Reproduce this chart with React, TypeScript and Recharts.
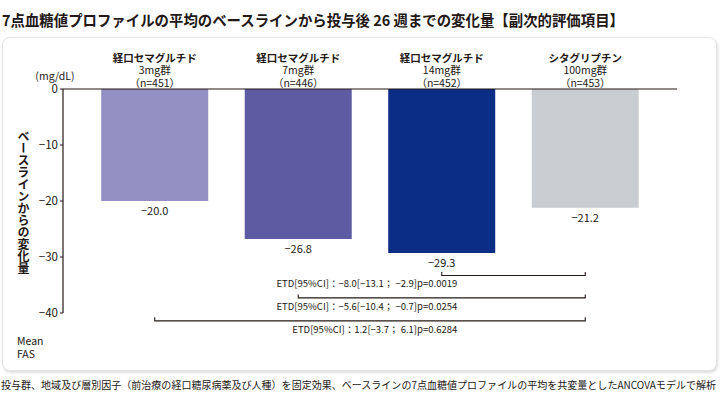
import React from 'react';
import { BarChart, Bar, XAxis, YAxis, Cell, LabelList, ReferenceLine } from 'recharts';

const categories = ['sema3', 'sema7', 'sema14', 'sita100'];
const drugNames = ['経口セマグルチド', '経口セマグルチド', '経口セマグルチド', 'シタグリプチン'];
const doseLabels = ['3mg群', '7mg群', '14mg群', '100mg群'];
const nLabels = ['（n=451）', '（n=446）', '（n=452）', '（n=453）'];
const changes = [-20.0, -26.8, -29.3, -21.2];
const barColors = ['#938fc2', '#5e5ba2', '#0c2d86', '#c9ccd0'];
const yTicks = [0, -10, -20, -30, -40];

const etdFrom = ['sema14', 'sema7', 'sema3'];
const etdTo = ['sita100', 'sita100', 'sita100'];
const etdLevel = [-33.3, -37.3, -41.4];
const etdTexts = [
  'ETD[95%CI]：−8.0[−13.1； −2.9]p=0.0019',
  'ETD[95%CI]：−5.6[−10.4； −0.7]p=0.0254',
  'ETD[95%CI]：1.2[−3.7； 6.1]p=0.6284',
];

const titleText = '7点血糖値プロファイルの平均のベースラインから投与後 26 週までの変化量【副次的評価項目】';
const footerText = '投与群、地域及び層別因子（前治療の経口糖尿病薬及び人種）を固定効果、ベースラインの7点血糖値プロファイルの平均を共変量としたANCOVAモデルで解析';
const yAxisTitle = 'ベースラインからの変化量';
const unitText = '(mg/dL)';

const data = categories.map((c, i) => ({ key: c, change: changes[i] }));

const INK = '#231815';
const FONT = "'Noto Sans CJK JP', 'Noto Sans', sans-serif";

const fmt = (v: number, digits = 0) => {
  const s = Math.abs(v).toFixed(digits);
  return v < 0 ? '−' + s : s;
};

const CategoryTick = (props: any) => {
  const { x, payload } = props;
  const i = categories.indexOf(payload.value);
  const base = 89;
  return (
    <g>
      <text x={x} y={base - 32} textAnchor="middle" dominantBaseline="central" fontSize={10.5} fontWeight={700} fontFamily={FONT} fill={INK}>
        {drugNames[i]}
      </text>
      <text x={x} y={base - 19.5} textAnchor="middle" dominantBaseline="central" fontSize={10.5} fontFamily={FONT} fill={INK}>
        {doseLabels[i]}
      </text>
      <text x={x} y={base - 7} textAnchor="middle" dominantBaseline="central" fontSize={10.5} fontFamily={FONT} fill={INK}>
        {nLabels[i]}
      </text>
    </g>
  );
};

const ValueLabel = (props: any) => {
  const vb = props.viewBox || props;
  const x = vb.x ?? props.x;
  const y = vb.y ?? props.y;
  const w = vb.width ?? props.width;
  const h = vb.height ?? props.height;
  const bottom = Math.max(y, y + h);
  return (
    <text x={x + w / 2} y={bottom + 9} textAnchor="middle" dominantBaseline="central" fontSize={11} fontFamily={FONT} fill={INK}>
      {fmt(Number(props.value), 1)}
    </text>
  );
};

const makeBracket = (label: string) => (p: any) => {
  const { x1, y1, x2 } = p;
  const left = Math.min(x1, x2);
  const right = Math.max(x1, x2);
  return (
    <g>
      <path
        d={`M${left},${y1 - 3.5}L${left},${y1}L${right},${y1}L${right},${y1 - 3.5}`}
        fill="none"
        stroke={INK}
        strokeWidth={1.1}
      />
      <text x={right - 128} y={y1 + 8} textAnchor="end" dominantBaseline="central" fontSize={9.5} fontFamily={FONT} fill={INK}>
        {label}
      </text>
    </g>
  );
};

export default function App() {
  return (
    <div style={{ position: 'absolute', left: 0, top: 0, width: 720, height: 405, background: '#fff', fontFamily: FONT, color: INK, overflow: 'hidden' }}>
      <div
        style={{
          position: 'absolute',
          left: 2,
          top: 37,
          width: 713,
          height: 332,
          border: '1px solid #e4e4e4',
          borderRadius: 8,
          boxShadow: '1px 2px 3px rgba(0,0,0,0.13)',
          background: '#fff',
        }}
      />
      <div style={{ position: 'absolute', left: 0, top: 0 }}>
        <BarChart width={720} height={405} data={data} margin={{ top: 49, right: 43, bottom: 92, left: 23 }} barCategoryGap="12.7%">
          <XAxis
            dataKey="key"
            orientation="top"
            height={40}
            padding={{ left: 20, right: 20 }}
            axisLine={{ stroke: INK, strokeWidth: 1.2 }}
            tickLine={false}
            tickSize={0}
            tickMargin={0}
            interval={0}
            tick={<CategoryTick />}
          />
          <YAxis
            type="number"
            domain={[-40, 0]}
            ticks={yTicks}
            width={40}
            axisLine={{ stroke: INK, strokeWidth: 1.2 }}
            tickLine={{ stroke: INK, strokeWidth: 1 }}
            tickSize={3}
            tickMargin={2}
            tick={{ fontSize: 11.5, fill: INK, fontFamily: FONT }}
            tickFormatter={(v: number) => fmt(v)}
          />
          <Bar dataKey="change" isAnimationActive={false}>
            {data.map((d, i) => (
              <Cell key={d.key} fill={barColors[i]} />
            ))}
            <LabelList dataKey="change" content={<ValueLabel />} />
          </Bar>
          {etdLevel.map((lv, i) => (
            <ReferenceLine
              key={i}
              segment={[
                { x: etdFrom[i], y: lv },
                { x: etdTo[i], y: lv },
              ]}
              ifOverflow="visible"
              shape={makeBracket(etdTexts[i])}
            />
          ))}
        </BarChart>
      </div>
      <svg width={720} height={405} style={{ position: 'absolute', left: 0, top: 0, pointerEvents: 'none' }}>
        <text x={2} y={25.5} fontSize={15} fontWeight={700} fontFamily={FONT} fill={INK} textLength={622} lengthAdjust="spacingAndGlyphs">
          {titleText}
        </text>
        <text x={1} y={389} fontSize={10} fontFamily={FONT} fill={INK} textLength={715} lengthAdjust="spacingAndGlyphs">
          {footerText}
        </text>
        <text x={55} y={75} textAnchor="middle" dominantBaseline="central" fontSize={10.5} fontFamily={FONT} fill={INK}>
          {unitText}
        </text>
        <text x={17} y={340.5} dominantBaseline="central" fontSize={10.5} fontFamily={FONT} fill={INK}>Mean</text>
        <text x={17} y={353} dominantBaseline="central" fontSize={10.5} fontFamily={FONT} fill={INK}>FAS</text>
      </svg>
      <div
        style={{
          position: 'absolute',
          left: 16,
          top: 130,
          width: 14,
          height: 144,
          writingMode: 'vertical-rl',
          fontSize: 12,
          lineHeight: '14px',
          fontWeight: 700,
          fontFamily: FONT,
          color: INK,
          whiteSpace: 'nowrap',
        }}
      >
        {yAxisTitle}
      </div>
    </div>
  );
}
